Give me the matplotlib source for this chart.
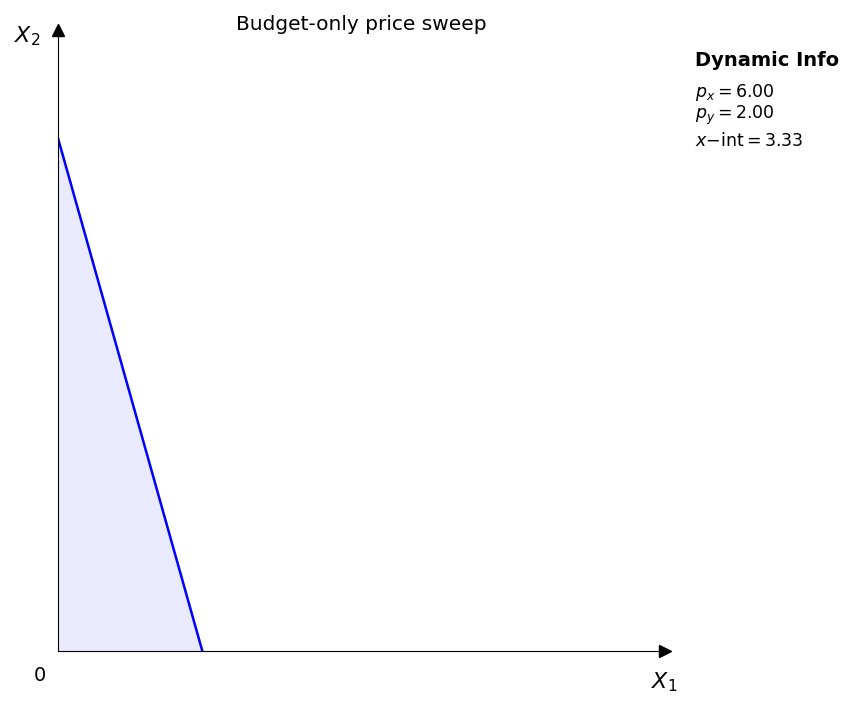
import matplotlib
matplotlib.use("Agg")
import matplotlib.pyplot as plt
import numpy as np

px = 6.0
py = 2.0
income = 20.0
xmax, ymax = 14.0, 12.1

fig = plt.figure(figsize=(8.5, 7.06), dpi=100)
ax = fig.add_axes([0.068, 0.078, 0.714, 0.88])
xint = income / px
yint = income / py
xs = np.array([0, xint])
ys = income / py - px / py * xs
ax.fill_between(xs, ys, 0, color="#eaeaff")
ax.plot(xs, ys, color="blue", lw=1.8)
ax.set_xlim(0, xmax)
ax.set_ylim(0, ymax)
for s in ["top", "right"]:
    ax.spines[s].set_visible(False)
ax.set_xticks([]); ax.set_yticks([])
ax.plot(1, 0, ">k", transform=ax.transAxes, clip_on=False, ms=8)
ax.plot(0, 1, "^k", transform=ax.transAxes, clip_on=False, ms=8)
ax.text(-0.03, -0.04, "0", transform=ax.transAxes, ha="center", va="center", fontsize=14)
ax.text(1.0, -0.05, "$X_1$", transform=ax.transAxes, ha="center", va="center", fontsize=16)
ax.text(-0.05, 0.99, "$X_2$", transform=ax.transAxes, ha="center", va="center", fontsize=16)
ax.set_title("Budget-only price sweep", fontsize=14.5, y=1.0, pad=0)
fig.text(0.818, 0.914, "Dynamic Info", fontsize=14, fontweight="bold", va="center")
fig.text(0.818, 0.869, f"$p_x = {px:.2f}$", fontsize=12.5, va="center")
fig.text(0.818, 0.836, f"$p_y = {py:.2f}$", fontsize=12.5, va="center")
fig.text(0.818, 0.800, f"$x\\mathrm{{-int}} = {xint:.2f}$", fontsize=12.5, va="center")
fig.savefig("out.png", dpi=100)
